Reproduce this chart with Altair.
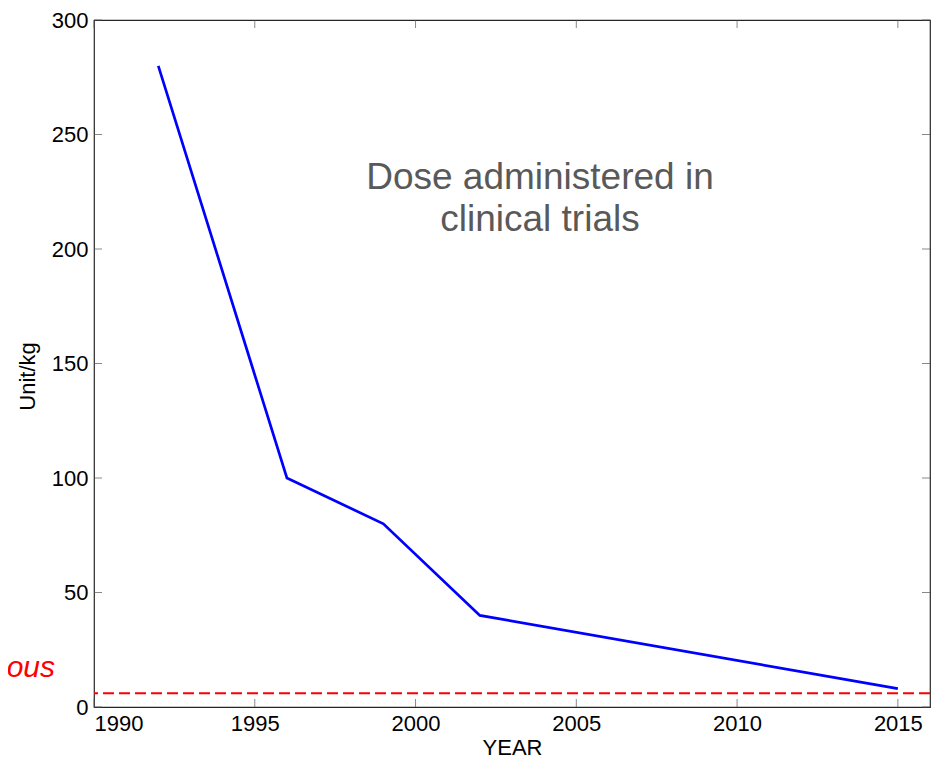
import altair as alt
import pandas as pd

# Data
years = [1992, 1996, 1999, 2002, 2015]
dose = [280, 100, 80, 40, 8]
threshold = 6
x_ticks = [1990, 1995, 2000, 2005, 2010, 2015]
y_ticks = [0, 50, 100, 150, 200, 250, 300]
annotation = "Dose administered in\nclinical trials"
side_label = "ous"

W, H = 836, 687
FONT = "Liberation Sans"

xs = alt.Scale(domain=[1990, 2016], nice=False, zero=False)
ys = alt.Scale(domain=[0, 300], nice=False)

x_axis = alt.Axis(values=x_ticks, format="d", ticks=False, domain=False,
                  grid=False, labelPadding=6, labelFontSize=22,
                  labelFont=FONT, labelColor="#000", titleFont=FONT,
                  titleFontSize=22, titleFontWeight="normal",
                  titleColor="#000", titleY=47, titleBaseline="alphabetic")
y_axis = alt.Axis(values=y_ticks, ticks=False, domain=False, grid=False,
                  labelPadding=6, labelFontSize=22, labelFont=FONT,
                  labelColor="#000", titleFont=FONT, titleFontSize=22,
                  titleFontWeight="normal", titleColor="#000",
                  titleX=-67, titleY=356, titleBaseline="middle",
                  titleAlign="center")

df = pd.DataFrame({"year": years, "dose": dose})
df_xt = pd.DataFrame({"year": x_ticks})
df_yt = pd.DataFrame({"dose": y_ticks})

X = alt.X("year:Q", scale=xs, title="YEAR", axis=x_axis)
Y = alt.Y("dose:Q", scale=ys, title="Unit/kg", axis=y_axis)

line = alt.Chart(df).mark_line(color="#0000ff", strokeWidth=2.7).encode(x=X, y=Y)

rule = alt.Chart().mark_rule(color="#ff0000", strokeWidth=2, strokeDash=[11, 5]).encode(
    y=alt.Y(datum=threshold, scale=ys, title="Unit/kg", axis=y_axis),
)

tick_style = dict(color="#555555", thickness=1, size=8)
xt_bottom = alt.Chart(df_xt).mark_tick(orient="vertical", **tick_style).encode(
    x=X, y=alt.value(H - 4))
xt_top = alt.Chart(df_xt).mark_tick(orient="vertical", **tick_style).encode(
    x=X, y=alt.value(4))
yt_left = alt.Chart(df_yt).mark_tick(orient="horizontal", **tick_style).encode(
    y=Y, x=alt.value(4))
yt_right = alt.Chart(df_yt).mark_tick(orient="horizontal", **tick_style).encode(
    y=Y, x=alt.value(W - 4))

note = alt.Chart().mark_text(
    text=annotation, lineBreak="\n", font=FONT, fontSize=37, color="#595959",
    align="center", baseline="alphabetic", lineHeight=42,
).encode(
    x=alt.X(datum=2003.87, scale=xs, title="YEAR", axis=x_axis),
    y=alt.Y(datum=226, scale=ys, title="Unit/kg", axis=y_axis),
)

side = alt.Chart().mark_text(
    text=side_label, font=FONT, fontSize=30, fontStyle="italic", color="#ff0000",
    align="right", baseline="middle",
).encode(
    x=alt.value(-39),
    y=alt.Y(datum=17, scale=ys, title="Unit/kg", axis=y_axis),
)

chart = alt.layer(rule, line, xt_bottom, xt_top, yt_left, yt_right, note, side).properties(
    width=W, height=H,
    background="white",
    autosize=alt.AutoSizeParams(type="none"),
    padding={"left": 86, "top": 12, "right": 4, "bottom": 53},
).configure_view(stroke="#262626", strokeWidth=1.2)

chart.save("out.html", embed_options={"renderer": "svg", "actions": False})
